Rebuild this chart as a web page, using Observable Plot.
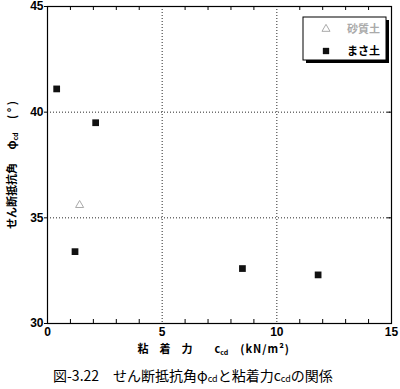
<!DOCTYPE html>
<html>
<head>
<meta charset="utf-8">
<script src="https://cdn.jsdelivr.net/npm/d3@7"></script>
<script src="https://cdn.jsdelivr.net/npm/@observablehq/plot@0.6"></script>
<style>
  body { margin: 0; background: #fff; }
  #wrap { position: relative; width: 400px; }
  #caption { font-family: "Noto Sans CJK JP", sans-serif; font-size: 14px; color: #000;
             padding-left: 53px; height: 27px; line-height: 27px; white-space: pre; }
  #caption sub { font-size: 9px; vertical-align: -1px; }
</style>
</head>
<body>
<div id="wrap"></div>
<div id="caption">図-3.22　せん断抵抗角φ<sub>cd</sub>と粘着力c<sub>cd</sub>の関係</div>
<script>
// ---- data ----
const seriesNames = ["砂質土", "まさ土"];
const sandC = [1.4];
const sandPhi = [35.6];
const masaC = [0.4, 2.1, 1.2, 8.5, 11.8];
const masaPhi = [41.1, 39.5, 33.4, 32.6, 32.3];
const xTicks = [0, 5, 10, 15];
const yTicks = [30, 35, 40, 45];
const xMinor = [1, 2, 3, 4, 6, 7, 8, 9, 11, 12, 13, 14];
const xGrid = [5, 10];
const yGrid = [35, 40];

const sand = sandC.map((c, i) => ({c, phi: sandPhi[i]}));
const masa = masaC.map((c, i) => ({c, phi: masaPhi[i]}));

const W = 400, H = 362, mT = 6, mR = 9, mB = 39, mL = 47;
const plotH = H - mT - mB, plotW = W - mL - mR;
const numFont = "'Liberation Sans Narrow', 'Liberation Sans', Arial, sans-serif";
const jpFont = "'Noto Sans CJK JP', sans-serif";

const chart = Plot.plot({
  width: W, height: H,
  marginTop: mT, marginRight: mR, marginBottom: mB, marginLeft: mL,
  x: {domain: [0, 15]},
  y: {domain: [30, 45]},
  style: {fontFamily: numFont, fontSize: "12px", background: "#fff", color: "#000"},
  marks: [
    Plot.gridX(xGrid, {stroke: "#000", strokeOpacity: 0.85, strokeDasharray: "1,2"}),
    Plot.gridY(yGrid, {stroke: "#000", strokeOpacity: 0.85, strokeDasharray: "1,2"}),
    Plot.tickX(xMinor, {x: d => d, insetBottom: plotH - 4, stroke: "#000"}),
    Plot.tickX(xMinor, {x: d => d, insetTop: plotH - 4, stroke: "#000"}),
    Plot.tickY(yGrid, {y: d => d, insetLeft: plotW - 4, stroke: "#000"}),
    Plot.axisX(xTicks, {tickSize: 0, tickPadding: 4, label: null, fontWeight: 600, fontSize: 12}),
    Plot.axisY(yTicks, {tickSize: 3, tickPadding: 1, label: null, fontWeight: 600, fontSize: 12}),
    Plot.frame({stroke: "#000", strokeWidth: 1.2}),
    Plot.dot(sand, {x: "c", y: "phi", symbol: "triangle", r: 3, stroke: "#aaa", strokeWidth: 1, fill: "none"}),
    Plot.dot(masa, {x: "c", y: "phi", symbol: "square", r: 3.8, fill: "#111", stroke: "none"}),
    Plot.text(["ylabel"], {frameAnchor: "left", dx: -35, rotate: -90, className: "ylab",
      fontFamily: jpFont, fontSize: 11, fontWeight: 700, textAnchor: "middle"}),
    Plot.text(["xlabel"], {frameAnchor: "bottom", dx: -82, dy: 29, className: "xlab",
      fontFamily: jpFont, fontSize: 11, fontWeight: 700, textAnchor: "start"})
  ]
});

document.getElementById("wrap").appendChild(chart);
const svg = d3.select(chart);

function richText(sel, parts) {
  sel.text(null);
  parts.forEach(p => {
    const t = sel.append("tspan").text(p.t);
    if (p.sub) t.attr("font-size", 7).attr("baseline-shift", "-30%");
    if (p.ls) t.attr("letter-spacing", p.ls);
  });
}
richText(svg.select(".ylab text"), [
  {t: "せん断抵抗角　 φ"}, {t: "cd", sub: true}, {t: "　 ( ° )"}
]);
richText(svg.select(".xlab text"), [
  {t: "粘　着　力　　c"}, {t: "cd", sub: true}, {t: "　(kN/m²)", ls: 1}
]);

// ---- legend ----
const lx = W - mR - 88, ly = mT + 11, lw = 83, lh = 43;
const lg = svg.append("g").attr("text-anchor", "start");
lg.append("rect").attr("x", lx + 3).attr("y", ly + 3).attr("width", lw).attr("height", lh).attr("fill", "#000");
lg.append("rect").attr("x", lx).attr("y", ly).attr("width", lw).attr("height", lh)
  .attr("fill", "#fff").attr("stroke", "#000").attr("stroke-width", 1);
const legendItems = [
  {name: seriesNames[0], color: "#aaa", sym: d3.symbolTriangle, size: 28, fill: "none", stroke: "#aaa"},
  {name: seriesNames[1], color: "#000", sym: d3.symbolSquare, size: 40, fill: "#111", stroke: "none"}
];
legendItems.forEach((it, i) => {
  const cy = ly + 12 + i * 22;
  lg.append("path").attr("d", d3.symbol(it.sym, it.size)())
    .attr("transform", `translate(${lx + 23},${cy})`)
    .attr("fill", it.fill).attr("stroke", it.stroke);
  lg.append("text").attr("x", lx + 44).attr("y", cy).attr("dy", "0.36em")
    .attr("text-anchor", "start")
    .attr("font-family", jpFont).attr("font-size", 11).attr("font-weight", 700)
    .attr("fill", it.color).text(it.name);
});
</script>
</body>
</html>
